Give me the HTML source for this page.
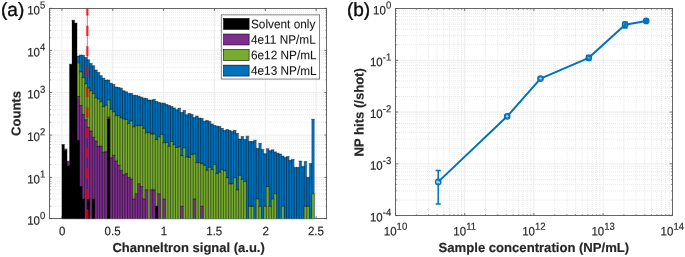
<!DOCTYPE html>
<html><head><meta charset="utf-8"><title>Figure</title>
<style>html,body{margin:0;padding:0;background:#fff}svg{display:block}text{font-family:"Liberation Sans",sans-serif}</style>
</head><body>
<svg width="685" height="257" viewBox="0 0 685 257">
<rect width="685" height="257" fill="#fff"/>
<g id="panelA">
<line x1="50" x2="327" y1="206.27" y2="206.27" stroke="#e4e4e4" stroke-width="0.8" stroke-dasharray="1 1" stroke-dashoffset="1"/>
<line x1="50" x2="327" y1="198.99" y2="198.99" stroke="#e4e4e4" stroke-width="0.8" stroke-dasharray="1 1" stroke-dashoffset="1"/>
<line x1="50" x2="327" y1="193.83" y2="193.83" stroke="#e4e4e4" stroke-width="0.8" stroke-dasharray="1 1" stroke-dashoffset="1"/>
<line x1="50" x2="327" y1="189.83" y2="189.83" stroke="#e4e4e4" stroke-width="0.8" stroke-dasharray="1 1" stroke-dashoffset="1"/>
<line x1="50" x2="327" y1="186.56" y2="186.56" stroke="#e4e4e4" stroke-width="0.8" stroke-dasharray="1 1" stroke-dashoffset="1"/>
<line x1="50" x2="327" y1="183.8" y2="183.8" stroke="#e4e4e4" stroke-width="0.8" stroke-dasharray="1 1" stroke-dashoffset="1"/>
<line x1="50" x2="327" y1="181.4" y2="181.4" stroke="#e4e4e4" stroke-width="0.8" stroke-dasharray="1 1" stroke-dashoffset="1"/>
<line x1="50" x2="327" y1="179.29" y2="179.29" stroke="#e4e4e4" stroke-width="0.8" stroke-dasharray="1 1" stroke-dashoffset="1"/>
<line x1="50" x2="327" y1="164.67" y2="164.67" stroke="#e4e4e4" stroke-width="0.8" stroke-dasharray="1 1" stroke-dashoffset="1"/>
<line x1="50" x2="327" y1="157.22" y2="157.22" stroke="#e4e4e4" stroke-width="0.8" stroke-dasharray="1 1" stroke-dashoffset="1"/>
<line x1="50" x2="327" y1="151.93" y2="151.93" stroke="#e4e4e4" stroke-width="0.8" stroke-dasharray="1 1" stroke-dashoffset="1"/>
<line x1="50" x2="327" y1="147.83" y2="147.83" stroke="#e4e4e4" stroke-width="0.8" stroke-dasharray="1 1" stroke-dashoffset="1"/>
<line x1="50" x2="327" y1="144.48" y2="144.48" stroke="#e4e4e4" stroke-width="0.8" stroke-dasharray="1 1" stroke-dashoffset="1"/>
<line x1="50" x2="327" y1="141.65" y2="141.65" stroke="#e4e4e4" stroke-width="0.8" stroke-dasharray="1 1" stroke-dashoffset="1"/>
<line x1="50" x2="327" y1="139.2" y2="139.2" stroke="#e4e4e4" stroke-width="0.8" stroke-dasharray="1 1" stroke-dashoffset="1"/>
<line x1="50" x2="327" y1="137.04" y2="137.04" stroke="#e4e4e4" stroke-width="0.8" stroke-dasharray="1 1" stroke-dashoffset="1"/>
<line x1="50" x2="327" y1="122.28" y2="122.28" stroke="#e4e4e4" stroke-width="0.8" stroke-dasharray="1 1" stroke-dashoffset="1"/>
<line x1="50" x2="327" y1="114.77" y2="114.77" stroke="#e4e4e4" stroke-width="0.8" stroke-dasharray="1 1" stroke-dashoffset="1"/>
<line x1="50" x2="327" y1="109.45" y2="109.45" stroke="#e4e4e4" stroke-width="0.8" stroke-dasharray="1 1" stroke-dashoffset="1"/>
<line x1="50" x2="327" y1="105.32" y2="105.32" stroke="#e4e4e4" stroke-width="0.8" stroke-dasharray="1 1" stroke-dashoffset="1"/>
<line x1="50" x2="327" y1="101.95" y2="101.95" stroke="#e4e4e4" stroke-width="0.8" stroke-dasharray="1 1" stroke-dashoffset="1"/>
<line x1="50" x2="327" y1="99.1" y2="99.1" stroke="#e4e4e4" stroke-width="0.8" stroke-dasharray="1 1" stroke-dashoffset="1"/>
<line x1="50" x2="327" y1="96.63" y2="96.63" stroke="#e4e4e4" stroke-width="0.8" stroke-dasharray="1 1" stroke-dashoffset="1"/>
<line x1="50" x2="327" y1="94.45" y2="94.45" stroke="#e4e4e4" stroke-width="0.8" stroke-dasharray="1 1" stroke-dashoffset="1"/>
<line x1="50" x2="327" y1="79.83" y2="79.83" stroke="#e4e4e4" stroke-width="0.8" stroke-dasharray="1 1" stroke-dashoffset="1"/>
<line x1="50" x2="327" y1="72.41" y2="72.41" stroke="#e4e4e4" stroke-width="0.8" stroke-dasharray="1 1" stroke-dashoffset="1"/>
<line x1="50" x2="327" y1="67.15" y2="67.15" stroke="#e4e4e4" stroke-width="0.8" stroke-dasharray="1 1" stroke-dashoffset="1"/>
<line x1="50" x2="327" y1="63.07" y2="63.07" stroke="#e4e4e4" stroke-width="0.8" stroke-dasharray="1 1" stroke-dashoffset="1"/>
<line x1="50" x2="327" y1="59.74" y2="59.74" stroke="#e4e4e4" stroke-width="0.8" stroke-dasharray="1 1" stroke-dashoffset="1"/>
<line x1="50" x2="327" y1="56.92" y2="56.92" stroke="#e4e4e4" stroke-width="0.8" stroke-dasharray="1 1" stroke-dashoffset="1"/>
<line x1="50" x2="327" y1="54.48" y2="54.48" stroke="#e4e4e4" stroke-width="0.8" stroke-dasharray="1 1" stroke-dashoffset="1"/>
<line x1="50" x2="327" y1="52.33" y2="52.33" stroke="#e4e4e4" stroke-width="0.8" stroke-dasharray="1 1" stroke-dashoffset="1"/>
<line x1="50" x2="327" y1="37.76" y2="37.76" stroke="#e4e4e4" stroke-width="0.8" stroke-dasharray="1 1" stroke-dashoffset="1"/>
<line x1="50" x2="327" y1="30.36" y2="30.36" stroke="#e4e4e4" stroke-width="0.8" stroke-dasharray="1 1" stroke-dashoffset="1"/>
<line x1="50" x2="327" y1="25.11" y2="25.11" stroke="#e4e4e4" stroke-width="0.8" stroke-dasharray="1 1" stroke-dashoffset="1"/>
<line x1="50" x2="327" y1="21.04" y2="21.04" stroke="#e4e4e4" stroke-width="0.8" stroke-dasharray="1 1" stroke-dashoffset="1"/>
<line x1="50" x2="327" y1="17.72" y2="17.72" stroke="#e4e4e4" stroke-width="0.8" stroke-dasharray="1 1" stroke-dashoffset="1"/>
<line x1="50" x2="327" y1="14.91" y2="14.91" stroke="#e4e4e4" stroke-width="0.8" stroke-dasharray="1 1" stroke-dashoffset="1"/>
<line x1="50" x2="327" y1="12.47" y2="12.47" stroke="#e4e4e4" stroke-width="0.8" stroke-dasharray="1 1" stroke-dashoffset="1"/>
<line x1="50" x2="327" y1="10.32" y2="10.32" stroke="#e4e4e4" stroke-width="0.8" stroke-dasharray="1 1" stroke-dashoffset="1"/>
<line x1="49.5" x2="327" y1="177.4" y2="177.4" stroke="#ececec" stroke-width="1"/>
<line x1="49.5" x2="327" y1="135.1" y2="135.1" stroke="#ececec" stroke-width="1"/>
<line x1="49.5" x2="327" y1="92.5" y2="92.5" stroke="#ececec" stroke-width="1"/>
<line x1="49.5" x2="327" y1="50.4" y2="50.4" stroke="#ececec" stroke-width="1"/>
<line x1="61.9" x2="61.9" y1="8.4" y2="218.7" stroke="#ececec" stroke-width="1"/>
<line x1="112.75" x2="112.75" y1="8.4" y2="218.7" stroke="#ececec" stroke-width="1"/>
<line x1="163.6" x2="163.6" y1="8.4" y2="218.7" stroke="#ececec" stroke-width="1"/>
<line x1="214.45" x2="214.45" y1="8.4" y2="218.7" stroke="#ececec" stroke-width="1"/>
<line x1="265.3" x2="265.3" y1="8.4" y2="218.7" stroke="#ececec" stroke-width="1"/>
<line x1="316.15" x2="316.15" y1="8.4" y2="218.7" stroke="#ececec" stroke-width="1"/>
<rect x="49.5" y="8.5" width="277" height="210" fill="none" stroke="#565656" stroke-width="0.9"/>
<line x1="61.9" x2="61.9" y1="218.7" y2="216.1" stroke="#565656" stroke-width="0.8"/>
<line x1="61.9" x2="61.9" y1="8.4" y2="11" stroke="#565656" stroke-width="0.8"/>
<line x1="112.75" x2="112.75" y1="218.7" y2="216.1" stroke="#565656" stroke-width="0.8"/>
<line x1="112.75" x2="112.75" y1="8.4" y2="11" stroke="#565656" stroke-width="0.8"/>
<line x1="163.6" x2="163.6" y1="218.7" y2="216.1" stroke="#565656" stroke-width="0.8"/>
<line x1="163.6" x2="163.6" y1="8.4" y2="11" stroke="#565656" stroke-width="0.8"/>
<line x1="214.45" x2="214.45" y1="218.7" y2="216.1" stroke="#565656" stroke-width="0.8"/>
<line x1="214.45" x2="214.45" y1="8.4" y2="11" stroke="#565656" stroke-width="0.8"/>
<line x1="265.3" x2="265.3" y1="218.7" y2="216.1" stroke="#565656" stroke-width="0.8"/>
<line x1="265.3" x2="265.3" y1="8.4" y2="11" stroke="#565656" stroke-width="0.8"/>
<line x1="316.15" x2="316.15" y1="218.7" y2="216.1" stroke="#565656" stroke-width="0.8"/>
<line x1="316.15" x2="316.15" y1="8.4" y2="11" stroke="#565656" stroke-width="0.8"/>
<line x1="49.5" x2="52.1" y1="218.7" y2="218.7" stroke="#565656" stroke-width="0.8"/>
<line x1="327" x2="324.4" y1="218.7" y2="218.7" stroke="#565656" stroke-width="0.8"/>
<line x1="49.5" x2="50.9" y1="206.27" y2="206.27" stroke="#565656" stroke-width="0.6"/>
<line x1="327" x2="325.6" y1="206.27" y2="206.27" stroke="#565656" stroke-width="0.6"/>
<line x1="49.5" x2="50.9" y1="198.99" y2="198.99" stroke="#565656" stroke-width="0.6"/>
<line x1="327" x2="325.6" y1="198.99" y2="198.99" stroke="#565656" stroke-width="0.6"/>
<line x1="49.5" x2="50.9" y1="193.83" y2="193.83" stroke="#565656" stroke-width="0.6"/>
<line x1="327" x2="325.6" y1="193.83" y2="193.83" stroke="#565656" stroke-width="0.6"/>
<line x1="49.5" x2="50.9" y1="189.83" y2="189.83" stroke="#565656" stroke-width="0.6"/>
<line x1="327" x2="325.6" y1="189.83" y2="189.83" stroke="#565656" stroke-width="0.6"/>
<line x1="49.5" x2="50.9" y1="186.56" y2="186.56" stroke="#565656" stroke-width="0.6"/>
<line x1="327" x2="325.6" y1="186.56" y2="186.56" stroke="#565656" stroke-width="0.6"/>
<line x1="49.5" x2="50.9" y1="183.8" y2="183.8" stroke="#565656" stroke-width="0.6"/>
<line x1="327" x2="325.6" y1="183.8" y2="183.8" stroke="#565656" stroke-width="0.6"/>
<line x1="49.5" x2="50.9" y1="181.4" y2="181.4" stroke="#565656" stroke-width="0.6"/>
<line x1="327" x2="325.6" y1="181.4" y2="181.4" stroke="#565656" stroke-width="0.6"/>
<line x1="49.5" x2="50.9" y1="179.29" y2="179.29" stroke="#565656" stroke-width="0.6"/>
<line x1="327" x2="325.6" y1="179.29" y2="179.29" stroke="#565656" stroke-width="0.6"/>
<line x1="49.5" x2="52.1" y1="177.4" y2="177.4" stroke="#565656" stroke-width="0.8"/>
<line x1="327" x2="324.4" y1="177.4" y2="177.4" stroke="#565656" stroke-width="0.8"/>
<line x1="49.5" x2="50.9" y1="164.67" y2="164.67" stroke="#565656" stroke-width="0.6"/>
<line x1="327" x2="325.6" y1="164.67" y2="164.67" stroke="#565656" stroke-width="0.6"/>
<line x1="49.5" x2="50.9" y1="157.22" y2="157.22" stroke="#565656" stroke-width="0.6"/>
<line x1="327" x2="325.6" y1="157.22" y2="157.22" stroke="#565656" stroke-width="0.6"/>
<line x1="49.5" x2="50.9" y1="151.93" y2="151.93" stroke="#565656" stroke-width="0.6"/>
<line x1="327" x2="325.6" y1="151.93" y2="151.93" stroke="#565656" stroke-width="0.6"/>
<line x1="49.5" x2="50.9" y1="147.83" y2="147.83" stroke="#565656" stroke-width="0.6"/>
<line x1="327" x2="325.6" y1="147.83" y2="147.83" stroke="#565656" stroke-width="0.6"/>
<line x1="49.5" x2="50.9" y1="144.48" y2="144.48" stroke="#565656" stroke-width="0.6"/>
<line x1="327" x2="325.6" y1="144.48" y2="144.48" stroke="#565656" stroke-width="0.6"/>
<line x1="49.5" x2="50.9" y1="141.65" y2="141.65" stroke="#565656" stroke-width="0.6"/>
<line x1="327" x2="325.6" y1="141.65" y2="141.65" stroke="#565656" stroke-width="0.6"/>
<line x1="49.5" x2="50.9" y1="139.2" y2="139.2" stroke="#565656" stroke-width="0.6"/>
<line x1="327" x2="325.6" y1="139.2" y2="139.2" stroke="#565656" stroke-width="0.6"/>
<line x1="49.5" x2="50.9" y1="137.04" y2="137.04" stroke="#565656" stroke-width="0.6"/>
<line x1="327" x2="325.6" y1="137.04" y2="137.04" stroke="#565656" stroke-width="0.6"/>
<line x1="49.5" x2="52.1" y1="135.1" y2="135.1" stroke="#565656" stroke-width="0.8"/>
<line x1="327" x2="324.4" y1="135.1" y2="135.1" stroke="#565656" stroke-width="0.8"/>
<line x1="49.5" x2="50.9" y1="122.28" y2="122.28" stroke="#565656" stroke-width="0.6"/>
<line x1="327" x2="325.6" y1="122.28" y2="122.28" stroke="#565656" stroke-width="0.6"/>
<line x1="49.5" x2="50.9" y1="114.77" y2="114.77" stroke="#565656" stroke-width="0.6"/>
<line x1="327" x2="325.6" y1="114.77" y2="114.77" stroke="#565656" stroke-width="0.6"/>
<line x1="49.5" x2="50.9" y1="109.45" y2="109.45" stroke="#565656" stroke-width="0.6"/>
<line x1="327" x2="325.6" y1="109.45" y2="109.45" stroke="#565656" stroke-width="0.6"/>
<line x1="49.5" x2="50.9" y1="105.32" y2="105.32" stroke="#565656" stroke-width="0.6"/>
<line x1="327" x2="325.6" y1="105.32" y2="105.32" stroke="#565656" stroke-width="0.6"/>
<line x1="49.5" x2="50.9" y1="101.95" y2="101.95" stroke="#565656" stroke-width="0.6"/>
<line x1="327" x2="325.6" y1="101.95" y2="101.95" stroke="#565656" stroke-width="0.6"/>
<line x1="49.5" x2="50.9" y1="99.1" y2="99.1" stroke="#565656" stroke-width="0.6"/>
<line x1="327" x2="325.6" y1="99.1" y2="99.1" stroke="#565656" stroke-width="0.6"/>
<line x1="49.5" x2="50.9" y1="96.63" y2="96.63" stroke="#565656" stroke-width="0.6"/>
<line x1="327" x2="325.6" y1="96.63" y2="96.63" stroke="#565656" stroke-width="0.6"/>
<line x1="49.5" x2="50.9" y1="94.45" y2="94.45" stroke="#565656" stroke-width="0.6"/>
<line x1="327" x2="325.6" y1="94.45" y2="94.45" stroke="#565656" stroke-width="0.6"/>
<line x1="49.5" x2="52.1" y1="92.5" y2="92.5" stroke="#565656" stroke-width="0.8"/>
<line x1="327" x2="324.4" y1="92.5" y2="92.5" stroke="#565656" stroke-width="0.8"/>
<line x1="49.5" x2="50.9" y1="79.83" y2="79.83" stroke="#565656" stroke-width="0.6"/>
<line x1="327" x2="325.6" y1="79.83" y2="79.83" stroke="#565656" stroke-width="0.6"/>
<line x1="49.5" x2="50.9" y1="72.41" y2="72.41" stroke="#565656" stroke-width="0.6"/>
<line x1="327" x2="325.6" y1="72.41" y2="72.41" stroke="#565656" stroke-width="0.6"/>
<line x1="49.5" x2="50.9" y1="67.15" y2="67.15" stroke="#565656" stroke-width="0.6"/>
<line x1="327" x2="325.6" y1="67.15" y2="67.15" stroke="#565656" stroke-width="0.6"/>
<line x1="49.5" x2="50.9" y1="63.07" y2="63.07" stroke="#565656" stroke-width="0.6"/>
<line x1="327" x2="325.6" y1="63.07" y2="63.07" stroke="#565656" stroke-width="0.6"/>
<line x1="49.5" x2="50.9" y1="59.74" y2="59.74" stroke="#565656" stroke-width="0.6"/>
<line x1="327" x2="325.6" y1="59.74" y2="59.74" stroke="#565656" stroke-width="0.6"/>
<line x1="49.5" x2="50.9" y1="56.92" y2="56.92" stroke="#565656" stroke-width="0.6"/>
<line x1="327" x2="325.6" y1="56.92" y2="56.92" stroke="#565656" stroke-width="0.6"/>
<line x1="49.5" x2="50.9" y1="54.48" y2="54.48" stroke="#565656" stroke-width="0.6"/>
<line x1="327" x2="325.6" y1="54.48" y2="54.48" stroke="#565656" stroke-width="0.6"/>
<line x1="49.5" x2="50.9" y1="52.33" y2="52.33" stroke="#565656" stroke-width="0.6"/>
<line x1="327" x2="325.6" y1="52.33" y2="52.33" stroke="#565656" stroke-width="0.6"/>
<line x1="49.5" x2="52.1" y1="50.4" y2="50.4" stroke="#565656" stroke-width="0.8"/>
<line x1="327" x2="324.4" y1="50.4" y2="50.4" stroke="#565656" stroke-width="0.8"/>
<line x1="49.5" x2="50.9" y1="37.76" y2="37.76" stroke="#565656" stroke-width="0.6"/>
<line x1="327" x2="325.6" y1="37.76" y2="37.76" stroke="#565656" stroke-width="0.6"/>
<line x1="49.5" x2="50.9" y1="30.36" y2="30.36" stroke="#565656" stroke-width="0.6"/>
<line x1="327" x2="325.6" y1="30.36" y2="30.36" stroke="#565656" stroke-width="0.6"/>
<line x1="49.5" x2="50.9" y1="25.11" y2="25.11" stroke="#565656" stroke-width="0.6"/>
<line x1="327" x2="325.6" y1="25.11" y2="25.11" stroke="#565656" stroke-width="0.6"/>
<line x1="49.5" x2="50.9" y1="21.04" y2="21.04" stroke="#565656" stroke-width="0.6"/>
<line x1="327" x2="325.6" y1="21.04" y2="21.04" stroke="#565656" stroke-width="0.6"/>
<line x1="49.5" x2="50.9" y1="17.72" y2="17.72" stroke="#565656" stroke-width="0.6"/>
<line x1="327" x2="325.6" y1="17.72" y2="17.72" stroke="#565656" stroke-width="0.6"/>
<line x1="49.5" x2="50.9" y1="14.91" y2="14.91" stroke="#565656" stroke-width="0.6"/>
<line x1="327" x2="325.6" y1="14.91" y2="14.91" stroke="#565656" stroke-width="0.6"/>
<line x1="49.5" x2="50.9" y1="12.47" y2="12.47" stroke="#565656" stroke-width="0.6"/>
<line x1="327" x2="325.6" y1="12.47" y2="12.47" stroke="#565656" stroke-width="0.6"/>
<line x1="49.5" x2="50.9" y1="10.32" y2="10.32" stroke="#565656" stroke-width="0.6"/>
<line x1="327" x2="325.6" y1="10.32" y2="10.32" stroke="#565656" stroke-width="0.6"/>
<line x1="49.5" x2="52.1" y1="8.4" y2="8.4" stroke="#565656" stroke-width="0.8"/>
<line x1="327" x2="324.4" y1="8.4" y2="8.4" stroke="#565656" stroke-width="0.8"/>
<line x1="87.33" x2="87.33" y1="8.4" y2="218.7" stroke="#555" stroke-width="0.6"/>
<g id="h4e13">
<path d="M77.04 218.7V56.1H79.57V55.1H82.09V55.4H84.62V57.6H87.14V59.8H89.66V63.4H92.19V65.8H94.71V70H97.24V72.6H99.76V75.7H102.28V78.2H104.81V80.1H107.33V80.1H109.86V83.2H112.38V84.5H114.9V87H117.43V87.6H119.95V88.2H122.48V90.8H125V91.8H127.52V93.4H130.05V93.5H132.57V95.3H135.1V95.5H137.62V96.2H140.14V97.2H142.67V98.2H145.19V98.6H147.72V100.1H150.24V100.3H152.76V99.4H155.29V101.6H157.81V102.6H160.34V103.2H162.86V103.2H165.38V104.5H167.91V105.6H170.43V106.6H172.96V107.9H175.48V109.7H178V108.2H180.53V112.5H183.05V110.6H185.58V114.8H188.1V113.5H190.62V114.6H193.15V117.4H195.67V116H198.2V118H200.72V118.4H203.24V121.2H205.77V120.6H208.29V121.4H210.82V123.9H213.34V125.6H215.86V126.2H218.39V126.6H220.91V128.5H223.44V130.6H225.96V129.6H228.48V130.6H231.01V131.6H233.53V130.3H236.06V133.5H238.58V139.1H241.1V136.6H243.63V139.4H246.15V136.2H248.68V141.5H251.2V141.5H253.72V140.2H256.25V148.5H258.77V143.3H261.3V149.4H263.82V153.8H266.34V148.8H268.87V150.7H271.39V149.8H273.92V151.9H276.44V153.2H278.96V154.1H281.49V156.1H284.01V157.6H286.54V156.6H289.06V160.3H291.58V159.5H294.11V167.4H296.63V167.4H299.16V161.1H301.68V166.4H304.2V161.6H306.73V177.4H309.25V163.6H311.78V119.3H314.3V218.7Z" fill="#0072bd"/>
<path d="M77.04 218.7V56.1M79.57 56.1V218.7M79.57 218.7V55.1M82.09 55.1V218.7M82.09 218.7V55.4M84.62 55.4V218.7M84.62 218.7V57.6M87.14 57.6V218.7M87.14 218.7V59.8M89.66 59.8V218.7M89.66 218.7V63.4M92.19 63.4V218.7M92.19 218.7V65.8M94.71 65.8V218.7M94.71 218.7V70M97.24 70V218.7M97.24 218.7V72.6M99.76 72.6V218.7M99.76 218.7V75.7M102.28 75.7V218.7M102.28 218.7V78.2M104.81 78.2V218.7M104.81 218.7V80.1M107.33 80.1V218.7M107.33 218.7V80.1M109.86 80.1V218.7M109.86 218.7V83.2M112.38 83.2V218.7M112.38 218.7V84.5M114.9 84.5V218.7M114.9 218.7V87M117.43 87V218.7M117.43 218.7V87.6M119.95 87.6V218.7M119.95 218.7V88.2M122.48 88.2V218.7M122.48 218.7V90.8M125 90.8V218.7M125 218.7V91.8M127.52 91.8V218.7M127.52 218.7V93.4M130.05 93.4V218.7M130.05 218.7V93.5M132.57 93.5V218.7M132.57 218.7V95.3M135.1 95.3V218.7M135.1 218.7V95.5M137.62 95.5V218.7M137.62 218.7V96.2M140.14 96.2V218.7M140.14 218.7V97.2M142.67 97.2V218.7M142.67 218.7V98.2M145.19 98.2V218.7M145.19 218.7V98.6M147.72 98.6V218.7M147.72 218.7V100.1M150.24 100.1V218.7M150.24 218.7V100.3M152.76 100.3V218.7M152.76 218.7V99.4M155.29 99.4V218.7M155.29 218.7V101.6M157.81 101.6V218.7M157.81 218.7V102.6M160.34 102.6V218.7M160.34 218.7V103.2M162.86 103.2V218.7M162.86 218.7V103.2M165.38 103.2V218.7M165.38 218.7V104.5M167.91 104.5V218.7M167.91 218.7V105.6M170.43 105.6V218.7M170.43 218.7V106.6M172.96 106.6V218.7M172.96 218.7V107.9M175.48 107.9V218.7M175.48 218.7V109.7M178 109.7V218.7M178 218.7V108.2M180.53 108.2V218.7M180.53 218.7V112.5M183.05 112.5V218.7M183.05 218.7V110.6M185.58 110.6V218.7M185.58 218.7V114.8M188.1 114.8V218.7M188.1 218.7V113.5M190.62 113.5V218.7M190.62 218.7V114.6M193.15 114.6V218.7M193.15 218.7V117.4M195.67 117.4V218.7M195.67 218.7V116M198.2 116V218.7M198.2 218.7V118M200.72 118V218.7M200.72 218.7V118.4M203.24 118.4V218.7M203.24 218.7V121.2M205.77 121.2V218.7M205.77 218.7V120.6M208.29 120.6V218.7M208.29 218.7V121.4M210.82 121.4V218.7M210.82 218.7V123.9M213.34 123.9V218.7M213.34 218.7V125.6M215.86 125.6V218.7M215.86 218.7V126.2M218.39 126.2V218.7M218.39 218.7V126.6M220.91 126.6V218.7M220.91 218.7V128.5M223.44 128.5V218.7M223.44 218.7V130.6M225.96 130.6V218.7M225.96 218.7V129.6M228.48 129.6V218.7M228.48 218.7V130.6M231.01 130.6V218.7M231.01 218.7V131.6M233.53 131.6V218.7M233.53 218.7V130.3M236.06 130.3V218.7M236.06 218.7V133.5M238.58 133.5V218.7M238.58 218.7V139.1M241.1 139.1V218.7M241.1 218.7V136.6M243.63 136.6V218.7M243.63 218.7V139.4M246.15 139.4V218.7M246.15 218.7V136.2M248.68 136.2V218.7M248.68 218.7V141.5M251.2 141.5V218.7M251.2 218.7V141.5M253.72 141.5V218.7M253.72 218.7V140.2M256.25 140.2V218.7M256.25 218.7V148.5M258.77 148.5V218.7M258.77 218.7V143.3M261.3 143.3V218.7M261.3 218.7V149.4M263.82 149.4V218.7M263.82 218.7V153.8M266.34 153.8V218.7M266.34 218.7V148.8M268.87 148.8V218.7M268.87 218.7V150.7M271.39 150.7V218.7M271.39 218.7V149.8M273.92 149.8V218.7M273.92 218.7V151.9M276.44 151.9V218.7M276.44 218.7V153.2M278.96 153.2V218.7M278.96 218.7V154.1M281.49 154.1V218.7M281.49 218.7V156.1M284.01 156.1V218.7M284.01 218.7V157.6M286.54 157.6V218.7M286.54 218.7V156.6M289.06 156.6V218.7M289.06 218.7V160.3M291.58 160.3V218.7M291.58 218.7V159.5M294.11 159.5V218.7M294.11 218.7V167.4M296.63 167.4V218.7M296.63 218.7V167.4M299.16 167.4V218.7M299.16 218.7V161.1M301.68 161.1V218.7M301.68 218.7V166.4M304.2 166.4V218.7M304.2 218.7V161.6M306.73 161.6V218.7M306.73 218.7V177.4M309.25 177.4V218.7M309.25 218.7V163.6M311.78 163.6V218.7M311.78 218.7V119.3M314.3 119.3V218.7" fill="none" stroke="#000" stroke-opacity="0.6" stroke-width="0.44"/>
<path d="M77.04 56.1H79.57M79.57 55.1H82.09M82.09 55.4H84.62M84.62 57.6H87.14M87.14 59.8H89.66M89.66 63.4H92.19M92.19 65.8H94.71M94.71 70H97.24M97.24 72.6H99.76M99.76 75.7H102.28M102.28 78.2H104.81M104.81 80.1H107.33M107.33 80.1H109.86M109.86 83.2H112.38M112.38 84.5H114.9M114.9 87H117.43M117.43 87.6H119.95M119.95 88.2H122.48M122.48 90.8H125M125 91.8H127.52M127.52 93.4H130.05M130.05 93.5H132.57M132.57 95.3H135.1M135.1 95.5H137.62M137.62 96.2H140.14M140.14 97.2H142.67M142.67 98.2H145.19M145.19 98.6H147.72M147.72 100.1H150.24M150.24 100.3H152.76M152.76 99.4H155.29M155.29 101.6H157.81M157.81 102.6H160.34M160.34 103.2H162.86M162.86 103.2H165.38M165.38 104.5H167.91M167.91 105.6H170.43M170.43 106.6H172.96M172.96 107.9H175.48M175.48 109.7H178M178 108.2H180.53M180.53 112.5H183.05M183.05 110.6H185.58M185.58 114.8H188.1M188.1 113.5H190.62M190.62 114.6H193.15M193.15 117.4H195.67M195.67 116H198.2M198.2 118H200.72M200.72 118.4H203.24M203.24 121.2H205.77M205.77 120.6H208.29M208.29 121.4H210.82M210.82 123.9H213.34M213.34 125.6H215.86M215.86 126.2H218.39M218.39 126.6H220.91M220.91 128.5H223.44M223.44 130.6H225.96M225.96 129.6H228.48M228.48 130.6H231.01M231.01 131.6H233.53M233.53 130.3H236.06M236.06 133.5H238.58M238.58 139.1H241.1M241.1 136.6H243.63M243.63 139.4H246.15M246.15 136.2H248.68M248.68 141.5H251.2M251.2 141.5H253.72M253.72 140.2H256.25M256.25 148.5H258.77M258.77 143.3H261.3M261.3 149.4H263.82M263.82 153.8H266.34M266.34 148.8H268.87M268.87 150.7H271.39M271.39 149.8H273.92M273.92 151.9H276.44M276.44 153.2H278.96M278.96 154.1H281.49M281.49 156.1H284.01M284.01 157.6H286.54M286.54 156.6H289.06M289.06 160.3H291.58M291.58 159.5H294.11M294.11 167.4H296.63M296.63 167.4H299.16M299.16 161.1H301.68M301.68 166.4H304.2M304.2 161.6H306.73M306.73 177.4H309.25M309.25 163.6H311.78M311.78 119.3H314.3" fill="none" stroke="#000" stroke-opacity="0.8" stroke-width="0.55" stroke-linecap="square"/>
</g>
<g id="h6e12">
<path d="M77.04 218.7V62.8H79.57V71.9H82.09V77.6H84.62V83.9H87.14V88H89.66V90.8H92.19V93.6H94.71V97.8H97.24V99H99.76V101.8H102.28V106.6H104.81V105.2H107.33V99.9H109.86V109.3H112.38V111.9H114.9V115.6H117.43V115.9H119.95V117.8H122.48V119H125V119.5H127.52V123.6H130.05V121H132.57V126.8H135.1V125.6H137.62V125.6H140.14V125.6H142.67V128.3H145.19V132.7H147.72V132.7H150.24V134H152.76V134H155.29V139.4H157.81V136.9H160.34V134.6H162.86V142.8H165.38V142.5H167.91V146.3H170.43V141.5H172.96V144.8H175.48V147.5H178V146.9H180.53V155.7H183.05V147.8H185.58V156.9H188.1V157.5H190.62V154.6H193.15V154H195.67V162.6H198.2V162.8H200.72V163.8H203.24V165.3H205.77V170.3H208.29V167.3H210.82V169.6H213.34V164.6H215.86V173.6H218.39V172.3H220.91V169.8H223.44V170.8H225.96V177.7H228.48V183.8H231.01V183.8H233.53V177.7H236.06V189.83H238.58V175.2H241.1V179.29H243.63V181.4H246.15V218.7ZM248.68 218.7V206.27H251.2V206.27H253.72V218.7ZM256.25 218.7V198.99H258.77V206.27H261.3V218.7ZM263.82 218.7V206.27H266.34V186.56H268.87V206.27H271.39V198.99H273.92V193.83H276.44V218.7ZM281.49 218.7V206.27H284.01V218.7ZM304.2 218.7V206.27H306.73V206.27H309.25V218.7ZM311.78 218.7V193.83H314.3V218.7Z" fill="#77ac30"/>
<path d="M77.04 218.7V62.8M79.57 62.8V218.7M79.57 218.7V71.9M82.09 71.9V218.7M82.09 218.7V77.6M84.62 77.6V218.7M84.62 218.7V83.9M87.14 83.9V218.7M87.14 218.7V88M89.66 88V218.7M89.66 218.7V90.8M92.19 90.8V218.7M92.19 218.7V93.6M94.71 93.6V218.7M94.71 218.7V97.8M97.24 97.8V218.7M97.24 218.7V99M99.76 99V218.7M99.76 218.7V101.8M102.28 101.8V218.7M102.28 218.7V106.6M104.81 106.6V218.7M104.81 218.7V105.2M107.33 105.2V218.7M107.33 218.7V99.9M109.86 99.9V218.7M109.86 218.7V109.3M112.38 109.3V218.7M112.38 218.7V111.9M114.9 111.9V218.7M114.9 218.7V115.6M117.43 115.6V218.7M117.43 218.7V115.9M119.95 115.9V218.7M119.95 218.7V117.8M122.48 117.8V218.7M122.48 218.7V119M125 119V218.7M125 218.7V119.5M127.52 119.5V218.7M127.52 218.7V123.6M130.05 123.6V218.7M130.05 218.7V121M132.57 121V218.7M132.57 218.7V126.8M135.1 126.8V218.7M135.1 218.7V125.6M137.62 125.6V218.7M137.62 218.7V125.6M140.14 125.6V218.7M140.14 218.7V125.6M142.67 125.6V218.7M142.67 218.7V128.3M145.19 128.3V218.7M145.19 218.7V132.7M147.72 132.7V218.7M147.72 218.7V132.7M150.24 132.7V218.7M150.24 218.7V134M152.76 134V218.7M152.76 218.7V134M155.29 134V218.7M155.29 218.7V139.4M157.81 139.4V218.7M157.81 218.7V136.9M160.34 136.9V218.7M160.34 218.7V134.6M162.86 134.6V218.7M162.86 218.7V142.8M165.38 142.8V218.7M165.38 218.7V142.5M167.91 142.5V218.7M167.91 218.7V146.3M170.43 146.3V218.7M170.43 218.7V141.5M172.96 141.5V218.7M172.96 218.7V144.8M175.48 144.8V218.7M175.48 218.7V147.5M178 147.5V218.7M178 218.7V146.9M180.53 146.9V218.7M180.53 218.7V155.7M183.05 155.7V218.7M183.05 218.7V147.8M185.58 147.8V218.7M185.58 218.7V156.9M188.1 156.9V218.7M188.1 218.7V157.5M190.62 157.5V218.7M190.62 218.7V154.6M193.15 154.6V218.7M193.15 218.7V154M195.67 154V218.7M195.67 218.7V162.6M198.2 162.6V218.7M198.2 218.7V162.8M200.72 162.8V218.7M200.72 218.7V163.8M203.24 163.8V218.7M203.24 218.7V165.3M205.77 165.3V218.7M205.77 218.7V170.3M208.29 170.3V218.7M208.29 218.7V167.3M210.82 167.3V218.7M210.82 218.7V169.6M213.34 169.6V218.7M213.34 218.7V164.6M215.86 164.6V218.7M215.86 218.7V173.6M218.39 173.6V218.7M218.39 218.7V172.3M220.91 172.3V218.7M220.91 218.7V169.8M223.44 169.8V218.7M223.44 218.7V170.8M225.96 170.8V218.7M225.96 218.7V177.7M228.48 177.7V218.7M228.48 218.7V183.8M231.01 183.8V218.7M231.01 218.7V183.8M233.53 183.8V218.7M233.53 218.7V177.7M236.06 177.7V218.7M236.06 218.7V189.83M238.58 189.83V218.7M238.58 218.7V175.2M241.1 175.2V218.7M241.1 218.7V179.29M243.63 179.29V218.7M243.63 218.7V181.4M246.15 181.4V218.7M248.68 218.7V206.27M251.2 206.27V218.7M251.2 218.7V206.27M253.72 206.27V218.7M256.25 218.7V198.99M258.77 198.99V218.7M258.77 218.7V206.27M261.3 206.27V218.7M263.82 218.7V206.27M266.34 206.27V218.7M266.34 218.7V186.56M268.87 186.56V218.7M268.87 218.7V206.27M271.39 206.27V218.7M271.39 218.7V198.99M273.92 198.99V218.7M273.92 218.7V193.83M276.44 193.83V218.7M281.49 218.7V206.27M284.01 206.27V218.7M304.2 218.7V206.27M306.73 206.27V218.7M306.73 218.7V206.27M309.25 206.27V218.7M311.78 218.7V193.83M314.3 193.83V218.7" fill="none" stroke="#000" stroke-opacity="0.6" stroke-width="0.44"/>
<path d="M77.04 62.8H79.57M79.57 71.9H82.09M82.09 77.6H84.62M84.62 83.9H87.14M87.14 88H89.66M89.66 90.8H92.19M92.19 93.6H94.71M94.71 97.8H97.24M97.24 99H99.76M99.76 101.8H102.28M102.28 106.6H104.81M104.81 105.2H107.33M107.33 99.9H109.86M109.86 109.3H112.38M112.38 111.9H114.9M114.9 115.6H117.43M117.43 115.9H119.95M119.95 117.8H122.48M122.48 119H125M125 119.5H127.52M127.52 123.6H130.05M130.05 121H132.57M132.57 126.8H135.1M135.1 125.6H137.62M137.62 125.6H140.14M140.14 125.6H142.67M142.67 128.3H145.19M145.19 132.7H147.72M147.72 132.7H150.24M150.24 134H152.76M152.76 134H155.29M155.29 139.4H157.81M157.81 136.9H160.34M160.34 134.6H162.86M162.86 142.8H165.38M165.38 142.5H167.91M167.91 146.3H170.43M170.43 141.5H172.96M172.96 144.8H175.48M175.48 147.5H178M178 146.9H180.53M180.53 155.7H183.05M183.05 147.8H185.58M185.58 156.9H188.1M188.1 157.5H190.62M190.62 154.6H193.15M193.15 154H195.67M195.67 162.6H198.2M198.2 162.8H200.72M200.72 163.8H203.24M203.24 165.3H205.77M205.77 170.3H208.29M208.29 167.3H210.82M210.82 169.6H213.34M213.34 164.6H215.86M215.86 173.6H218.39M218.39 172.3H220.91M220.91 169.8H223.44M223.44 170.8H225.96M225.96 177.7H228.48M228.48 183.8H231.01M231.01 183.8H233.53M233.53 177.7H236.06M236.06 189.83H238.58M238.58 175.2H241.1M241.1 179.29H243.63M243.63 181.4H246.15M248.68 206.27H251.2M251.2 206.27H253.72M256.25 198.99H258.77M258.77 206.27H261.3M263.82 206.27H266.34M266.34 186.56H268.87M268.87 206.27H271.39M271.39 198.99H273.92M273.92 193.83H276.44M281.49 206.27H284.01M304.2 206.27H306.73M306.73 206.27H309.25M311.78 193.83H314.3" fill="none" stroke="#000" stroke-opacity="0.8" stroke-width="0.55" stroke-linecap="square"/>
</g>
<g id="h4e11">
<path d="M64.42 218.7V149H66.95V161.3H69.47V218.7ZM77.04 218.7V96.5H79.57V105.6H82.09V114.4H84.62V119.8H87.14V127.3H89.66V131.1H92.19V137.3H94.71V141.1H97.24V146.3H99.76V146.2H102.28V152.2H104.81V151.8H107.33V117.1H109.86V157.8H112.38V155.3H114.9V161H117.43V165.3H119.95V170.4H122.48V174.8H125V173.6H127.52V177.4H130.05V179H132.57V198.99H135.1V193.83H137.62V183.8H140.14V186.56H142.67V198.99H145.19V189.83H147.72V218.7ZM150.24 218.7V189.83H152.76V189.83H155.29V218.7ZM157.81 218.7V193.83H160.34V218.7ZM162.86 218.7V198.99H165.38V218.7ZM180.53 218.7V206.27H183.05V218.7ZM193.15 218.7V198.99H195.67V218.7ZM200.72 218.7V206.27H203.24V218.7Z" fill="#7e2f8e"/>
<path d="M64.42 218.7V149M66.95 149V218.7M66.95 218.7V161.3M69.47 161.3V218.7M77.04 218.7V96.5M79.57 96.5V218.7M79.57 218.7V105.6M82.09 105.6V218.7M82.09 218.7V114.4M84.62 114.4V218.7M84.62 218.7V119.8M87.14 119.8V218.7M87.14 218.7V127.3M89.66 127.3V218.7M89.66 218.7V131.1M92.19 131.1V218.7M92.19 218.7V137.3M94.71 137.3V218.7M94.71 218.7V141.1M97.24 141.1V218.7M97.24 218.7V146.3M99.76 146.3V218.7M99.76 218.7V146.2M102.28 146.2V218.7M102.28 218.7V152.2M104.81 152.2V218.7M104.81 218.7V151.8M107.33 151.8V218.7M107.33 218.7V117.1M109.86 117.1V218.7M109.86 218.7V157.8M112.38 157.8V218.7M112.38 218.7V155.3M114.9 155.3V218.7M114.9 218.7V161M117.43 161V218.7M117.43 218.7V165.3M119.95 165.3V218.7M119.95 218.7V170.4M122.48 170.4V218.7M122.48 218.7V174.8M125 174.8V218.7M125 218.7V173.6M127.52 173.6V218.7M127.52 218.7V177.4M130.05 177.4V218.7M130.05 218.7V179M132.57 179V218.7M132.57 218.7V198.99M135.1 198.99V218.7M135.1 218.7V193.83M137.62 193.83V218.7M137.62 218.7V183.8M140.14 183.8V218.7M140.14 218.7V186.56M142.67 186.56V218.7M142.67 218.7V198.99M145.19 198.99V218.7M145.19 218.7V189.83M147.72 189.83V218.7M150.24 218.7V189.83M152.76 189.83V218.7M152.76 218.7V189.83M155.29 189.83V218.7M157.81 218.7V193.83M160.34 193.83V218.7M162.86 218.7V198.99M165.38 198.99V218.7M180.53 218.7V206.27M183.05 206.27V218.7M193.15 218.7V198.99M195.67 198.99V218.7M200.72 218.7V206.27M203.24 206.27V218.7" fill="none" stroke="#000" stroke-opacity="0.6" stroke-width="0.44"/>
<path d="M64.42 149H66.95M66.95 161.3H69.47M77.04 96.5H79.57M79.57 105.6H82.09M82.09 114.4H84.62M84.62 119.8H87.14M87.14 127.3H89.66M89.66 131.1H92.19M92.19 137.3H94.71M94.71 141.1H97.24M97.24 146.3H99.76M99.76 146.2H102.28M102.28 152.2H104.81M104.81 151.8H107.33M107.33 117.1H109.86M109.86 157.8H112.38M112.38 155.3H114.9M114.9 161H117.43M117.43 165.3H119.95M119.95 170.4H122.48M122.48 174.8H125M125 173.6H127.52M127.52 177.4H130.05M130.05 179H132.57M132.57 198.99H135.1M135.1 193.83H137.62M137.62 183.8H140.14M140.14 186.56H142.67M142.67 198.99H145.19M145.19 189.83H147.72M150.24 189.83H152.76M152.76 189.83H155.29M157.81 193.83H160.34M162.86 198.99H165.38M180.53 206.27H183.05M193.15 198.99H195.67M200.72 206.27H203.24" fill="none" stroke="#000" stroke-opacity="0.8" stroke-width="0.55" stroke-linecap="square"/>
</g>
<g id="hsolv">
<path d="M61.9 218.7V144.6H64.42V150.5H66.95V166H69.47V64.2H72V20.3H74.52V23.1H77.04V140.5H79.57V186.56H82.09V198.99H84.62V218.7ZM87.14 218.7V198.99H89.66V218.7ZM92.19 218.7V198.99H94.71V218.7ZM107.33 218.7V119H109.86V218.7ZM155.29 218.7V206.27H157.81V218.7Z" fill="#000000"/>
<path d="M61.9 218.7V144.6M64.42 144.6V218.7M64.42 218.7V150.5M66.95 150.5V218.7M66.95 218.7V166M69.47 166V218.7M69.47 218.7V64.2M72 64.2V218.7M72 218.7V20.3M74.52 20.3V218.7M74.52 218.7V23.1M77.04 23.1V218.7M77.04 218.7V140.5M79.57 140.5V218.7M79.57 218.7V186.56M82.09 186.56V218.7M82.09 218.7V198.99M84.62 198.99V218.7M87.14 218.7V198.99M89.66 198.99V218.7M92.19 218.7V198.99M94.71 198.99V218.7M107.33 218.7V119M109.86 119V218.7M155.29 218.7V206.27M157.81 206.27V218.7" fill="none" stroke="#000" stroke-opacity="0.6" stroke-width="0.44"/>
<path d="M61.9 144.6H64.42M64.42 150.5H66.95M66.95 166H69.47M69.47 64.2H72M72 20.3H74.52M74.52 23.1H77.04M77.04 140.5H79.57M79.57 186.56H82.09M82.09 198.99H84.62M87.14 198.99H89.66M92.19 198.99H94.71M107.33 119H109.86M155.29 206.27H157.81" fill="none" stroke="#000" stroke-opacity="0.8" stroke-width="0.55" stroke-linecap="square"/>
</g>
<line x1="87.33" x2="87.33" y1="218.7" y2="8.4" stroke="#f40008" stroke-opacity="0.25" stroke-width="3.3" stroke-dasharray="10.1 10.29" stroke-dashoffset="0.74"/>
<line x1="87.33" x2="87.33" y1="218.7" y2="8.4" stroke="#f40008" stroke-opacity="0.7" stroke-width="1.9" stroke-dasharray="10.1 10.29" stroke-dashoffset="0.74"/>
<line x1="61.9" x2="314.3" y1="219.05" y2="219.05" stroke="#777" stroke-opacity="0.6" stroke-width="0.7"/>
<text transform="matrix(0.935 0.0005 0 1 62.3 235.25)" font-size="12.3" fill="#262626" stroke="#262626" stroke-width="0.17" text-anchor="middle">0</text>
<text transform="matrix(0.935 0.0005 0 1 112.55 235.25)" font-size="12.3" fill="#262626" stroke="#262626" stroke-width="0.17" text-anchor="middle">0.5</text>
<text transform="matrix(0.935 0.0005 0 1 164 235.25)" font-size="12.3" fill="#262626" stroke="#262626" stroke-width="0.17" text-anchor="middle">1</text>
<text transform="matrix(0.935 0.0005 0 1 214.25 235.25)" font-size="12.3" fill="#262626" stroke="#262626" stroke-width="0.17" text-anchor="middle">1.5</text>
<text transform="matrix(0.935 0.0005 0 1 265.7 235.25)" font-size="12.3" fill="#262626" stroke="#262626" stroke-width="0.17" text-anchor="middle">2</text>
<text transform="matrix(0.935 0.0005 0 1 315.95 235.25)" font-size="12.3" fill="#262626" stroke="#262626" stroke-width="0.17" text-anchor="middle">2.5</text>
<text transform="matrix(0.935 0.0005 0 1 45.3 224.7)" font-size="12.3" fill="#262626" stroke="#262626" stroke-width="0.17" text-anchor="end">10<tspan font-size="10.2" dy="-5.8">0</tspan></text>
<text transform="matrix(0.935 0.0005 0 1 45.3 183.4)" font-size="12.3" fill="#262626" stroke="#262626" stroke-width="0.17" text-anchor="end">10<tspan font-size="10.2" dy="-5.8">1</tspan></text>
<text transform="matrix(0.935 0.0005 0 1 45.3 141.1)" font-size="12.3" fill="#262626" stroke="#262626" stroke-width="0.17" text-anchor="end">10<tspan font-size="10.2" dy="-5.8">2</tspan></text>
<text transform="matrix(0.935 0.0005 0 1 45.3 98.5)" font-size="12.3" fill="#262626" stroke="#262626" stroke-width="0.17" text-anchor="end">10<tspan font-size="10.2" dy="-5.8">3</tspan></text>
<text transform="matrix(0.935 0.0005 0 1 45.3 56.4)" font-size="12.3" fill="#262626" stroke="#262626" stroke-width="0.17" text-anchor="end">10<tspan font-size="10.2" dy="-5.8">4</tspan></text>
<text transform="matrix(0.935 0.0005 0 1 45.3 14.4)" font-size="12.3" fill="#262626" stroke="#262626" stroke-width="0.17" text-anchor="end">10<tspan font-size="10.2" dy="-5.8">5</tspan></text>
<text transform="matrix(1.0 0.0005 0 1 188.6 252)" font-size="13.0" font-weight="bold" fill="#262626" stroke="#262626" stroke-width="0.17" text-anchor="middle">Channeltron signal (a.u.)</text>
<text transform="matrix(0.0005 -1.0 1 0 20.4 113.5)" font-size="13.05" font-weight="bold" fill="#262626" stroke="#262626" stroke-width="0.17" text-anchor="middle">Counts</text>
<text transform="matrix(1.0 0.0005 0 1 1 16)" font-size="19" fill="#0a0a0a" stroke="#0a0a0a" stroke-width="0.35">(a)</text>
<rect x="221.3" y="14.85" width="98.3" height="64.2" fill="#fff" stroke="#6e6e6e" stroke-width="0.85"/>
<rect x="223.6" y="18.5" width="25.5" height="10.9" fill="#000000" stroke="#000" stroke-width="0.6"/>
<text transform="matrix(0.96 0.0005 0 1 251 28.2)" font-size="12.3" fill="#151515" stroke="#151515" stroke-width="0.08">Solvent only</text>
<rect x="223.6" y="34.05" width="25.5" height="10.9" fill="#7e2f8e" stroke="#000" stroke-width="0.6"/>
<text transform="matrix(0.96 0.0005 0 1 251 43.75)" font-size="12.3" fill="#151515" stroke="#151515" stroke-width="0.08">4e11 NP/mL</text>
<rect x="223.6" y="49.6" width="25.5" height="10.9" fill="#77ac30" stroke="#000" stroke-width="0.6"/>
<text transform="matrix(0.96 0.0005 0 1 251 59.3)" font-size="12.3" fill="#151515" stroke="#151515" stroke-width="0.08">6e12 NP/mL</text>
<rect x="223.6" y="65.15" width="25.5" height="10.9" fill="#0072bd" stroke="#000" stroke-width="0.6"/>
<text transform="matrix(0.96 0.0005 0 1 251 74.85)" font-size="12.3" fill="#151515" stroke="#151515" stroke-width="0.08">4e13 NP/mL</text>
</g>
<g id="panelB">
<line x1="396" x2="672.3" y1="200.01" y2="200.01" stroke="#e4e4e4" stroke-width="0.8" stroke-dasharray="1 1" stroke-dashoffset="1"/>
<line x1="416.33" x2="416.33" y1="9" y2="215.6" stroke="#e4e4e4" stroke-width="0.8" stroke-dasharray="1 1" stroke-dashoffset="1"/>
<line x1="396" x2="672.3" y1="190.9" y2="190.9" stroke="#e4e4e4" stroke-width="0.8" stroke-dasharray="1 1" stroke-dashoffset="1"/>
<line x1="428.52" x2="428.52" y1="9" y2="215.6" stroke="#e4e4e4" stroke-width="0.8" stroke-dasharray="1 1" stroke-dashoffset="1"/>
<line x1="396" x2="672.3" y1="184.43" y2="184.43" stroke="#e4e4e4" stroke-width="0.8" stroke-dasharray="1 1" stroke-dashoffset="1"/>
<line x1="437.16" x2="437.16" y1="9" y2="215.6" stroke="#e4e4e4" stroke-width="0.8" stroke-dasharray="1 1" stroke-dashoffset="1"/>
<line x1="396" x2="672.3" y1="179.41" y2="179.41" stroke="#e4e4e4" stroke-width="0.8" stroke-dasharray="1 1" stroke-dashoffset="1"/>
<line x1="443.87" x2="443.87" y1="9" y2="215.6" stroke="#e4e4e4" stroke-width="0.8" stroke-dasharray="1 1" stroke-dashoffset="1"/>
<line x1="396" x2="672.3" y1="175.31" y2="175.31" stroke="#e4e4e4" stroke-width="0.8" stroke-dasharray="1 1" stroke-dashoffset="1"/>
<line x1="449.35" x2="449.35" y1="9" y2="215.6" stroke="#e4e4e4" stroke-width="0.8" stroke-dasharray="1 1" stroke-dashoffset="1"/>
<line x1="396" x2="672.3" y1="171.85" y2="171.85" stroke="#e4e4e4" stroke-width="0.8" stroke-dasharray="1 1" stroke-dashoffset="1"/>
<line x1="453.98" x2="453.98" y1="9" y2="215.6" stroke="#e4e4e4" stroke-width="0.8" stroke-dasharray="1 1" stroke-dashoffset="1"/>
<line x1="396" x2="672.3" y1="168.84" y2="168.84" stroke="#e4e4e4" stroke-width="0.8" stroke-dasharray="1 1" stroke-dashoffset="1"/>
<line x1="457.99" x2="457.99" y1="9" y2="215.6" stroke="#e4e4e4" stroke-width="0.8" stroke-dasharray="1 1" stroke-dashoffset="1"/>
<line x1="396" x2="672.3" y1="166.19" y2="166.19" stroke="#e4e4e4" stroke-width="0.8" stroke-dasharray="1 1" stroke-dashoffset="1"/>
<line x1="461.53" x2="461.53" y1="9" y2="215.6" stroke="#e4e4e4" stroke-width="0.8" stroke-dasharray="1 1" stroke-dashoffset="1"/>
<line x1="396" x2="672.3" y1="148.24" y2="148.24" stroke="#e4e4e4" stroke-width="0.8" stroke-dasharray="1 1" stroke-dashoffset="1"/>
<line x1="485.53" x2="485.53" y1="9" y2="215.6" stroke="#e4e4e4" stroke-width="0.8" stroke-dasharray="1 1" stroke-dashoffset="1"/>
<line x1="396" x2="672.3" y1="139.12" y2="139.12" stroke="#e4e4e4" stroke-width="0.8" stroke-dasharray="1 1" stroke-dashoffset="1"/>
<line x1="497.72" x2="497.72" y1="9" y2="215.6" stroke="#e4e4e4" stroke-width="0.8" stroke-dasharray="1 1" stroke-dashoffset="1"/>
<line x1="396" x2="672.3" y1="132.65" y2="132.65" stroke="#e4e4e4" stroke-width="0.8" stroke-dasharray="1 1" stroke-dashoffset="1"/>
<line x1="506.36" x2="506.36" y1="9" y2="215.6" stroke="#e4e4e4" stroke-width="0.8" stroke-dasharray="1 1" stroke-dashoffset="1"/>
<line x1="396" x2="672.3" y1="127.64" y2="127.64" stroke="#e4e4e4" stroke-width="0.8" stroke-dasharray="1 1" stroke-dashoffset="1"/>
<line x1="513.07" x2="513.07" y1="9" y2="215.6" stroke="#e4e4e4" stroke-width="0.8" stroke-dasharray="1 1" stroke-dashoffset="1"/>
<line x1="396" x2="672.3" y1="123.54" y2="123.54" stroke="#e4e4e4" stroke-width="0.8" stroke-dasharray="1 1" stroke-dashoffset="1"/>
<line x1="518.55" x2="518.55" y1="9" y2="215.6" stroke="#e4e4e4" stroke-width="0.8" stroke-dasharray="1 1" stroke-dashoffset="1"/>
<line x1="396" x2="672.3" y1="120.07" y2="120.07" stroke="#e4e4e4" stroke-width="0.8" stroke-dasharray="1 1" stroke-dashoffset="1"/>
<line x1="523.18" x2="523.18" y1="9" y2="215.6" stroke="#e4e4e4" stroke-width="0.8" stroke-dasharray="1 1" stroke-dashoffset="1"/>
<line x1="396" x2="672.3" y1="117.07" y2="117.07" stroke="#e4e4e4" stroke-width="0.8" stroke-dasharray="1 1" stroke-dashoffset="1"/>
<line x1="527.19" x2="527.19" y1="9" y2="215.6" stroke="#e4e4e4" stroke-width="0.8" stroke-dasharray="1 1" stroke-dashoffset="1"/>
<line x1="396" x2="672.3" y1="114.42" y2="114.42" stroke="#e4e4e4" stroke-width="0.8" stroke-dasharray="1 1" stroke-dashoffset="1"/>
<line x1="530.73" x2="530.73" y1="9" y2="215.6" stroke="#e4e4e4" stroke-width="0.8" stroke-dasharray="1 1" stroke-dashoffset="1"/>
<line x1="396" x2="672.3" y1="96.46" y2="96.46" stroke="#e4e4e4" stroke-width="0.8" stroke-dasharray="1 1" stroke-dashoffset="1"/>
<line x1="554.73" x2="554.73" y1="9" y2="215.6" stroke="#e4e4e4" stroke-width="0.8" stroke-dasharray="1 1" stroke-dashoffset="1"/>
<line x1="396" x2="672.3" y1="87.35" y2="87.35" stroke="#e4e4e4" stroke-width="0.8" stroke-dasharray="1 1" stroke-dashoffset="1"/>
<line x1="566.92" x2="566.92" y1="9" y2="215.6" stroke="#e4e4e4" stroke-width="0.8" stroke-dasharray="1 1" stroke-dashoffset="1"/>
<line x1="396" x2="672.3" y1="80.88" y2="80.88" stroke="#e4e4e4" stroke-width="0.8" stroke-dasharray="1 1" stroke-dashoffset="1"/>
<line x1="575.56" x2="575.56" y1="9" y2="215.6" stroke="#e4e4e4" stroke-width="0.8" stroke-dasharray="1 1" stroke-dashoffset="1"/>
<line x1="396" x2="672.3" y1="75.86" y2="75.86" stroke="#e4e4e4" stroke-width="0.8" stroke-dasharray="1 1" stroke-dashoffset="1"/>
<line x1="582.27" x2="582.27" y1="9" y2="215.6" stroke="#e4e4e4" stroke-width="0.8" stroke-dasharray="1 1" stroke-dashoffset="1"/>
<line x1="396" x2="672.3" y1="71.76" y2="71.76" stroke="#e4e4e4" stroke-width="0.8" stroke-dasharray="1 1" stroke-dashoffset="1"/>
<line x1="587.75" x2="587.75" y1="9" y2="215.6" stroke="#e4e4e4" stroke-width="0.8" stroke-dasharray="1 1" stroke-dashoffset="1"/>
<line x1="396" x2="672.3" y1="68.3" y2="68.3" stroke="#e4e4e4" stroke-width="0.8" stroke-dasharray="1 1" stroke-dashoffset="1"/>
<line x1="592.38" x2="592.38" y1="9" y2="215.6" stroke="#e4e4e4" stroke-width="0.8" stroke-dasharray="1 1" stroke-dashoffset="1"/>
<line x1="396" x2="672.3" y1="65.29" y2="65.29" stroke="#e4e4e4" stroke-width="0.8" stroke-dasharray="1 1" stroke-dashoffset="1"/>
<line x1="596.39" x2="596.39" y1="9" y2="215.6" stroke="#e4e4e4" stroke-width="0.8" stroke-dasharray="1 1" stroke-dashoffset="1"/>
<line x1="396" x2="672.3" y1="62.64" y2="62.64" stroke="#e4e4e4" stroke-width="0.8" stroke-dasharray="1 1" stroke-dashoffset="1"/>
<line x1="599.93" x2="599.93" y1="9" y2="215.6" stroke="#e4e4e4" stroke-width="0.8" stroke-dasharray="1 1" stroke-dashoffset="1"/>
<line x1="396" x2="672.3" y1="44.69" y2="44.69" stroke="#e4e4e4" stroke-width="0.8" stroke-dasharray="1 1" stroke-dashoffset="1"/>
<line x1="623.93" x2="623.93" y1="9" y2="215.6" stroke="#e4e4e4" stroke-width="0.8" stroke-dasharray="1 1" stroke-dashoffset="1"/>
<line x1="396" x2="672.3" y1="35.57" y2="35.57" stroke="#e4e4e4" stroke-width="0.8" stroke-dasharray="1 1" stroke-dashoffset="1"/>
<line x1="636.12" x2="636.12" y1="9" y2="215.6" stroke="#e4e4e4" stroke-width="0.8" stroke-dasharray="1 1" stroke-dashoffset="1"/>
<line x1="396" x2="672.3" y1="29.1" y2="29.1" stroke="#e4e4e4" stroke-width="0.8" stroke-dasharray="1 1" stroke-dashoffset="1"/>
<line x1="644.76" x2="644.76" y1="9" y2="215.6" stroke="#e4e4e4" stroke-width="0.8" stroke-dasharray="1 1" stroke-dashoffset="1"/>
<line x1="396" x2="672.3" y1="24.09" y2="24.09" stroke="#e4e4e4" stroke-width="0.8" stroke-dasharray="1 1" stroke-dashoffset="1"/>
<line x1="651.47" x2="651.47" y1="9" y2="215.6" stroke="#e4e4e4" stroke-width="0.8" stroke-dasharray="1 1" stroke-dashoffset="1"/>
<line x1="396" x2="672.3" y1="19.99" y2="19.99" stroke="#e4e4e4" stroke-width="0.8" stroke-dasharray="1 1" stroke-dashoffset="1"/>
<line x1="656.95" x2="656.95" y1="9" y2="215.6" stroke="#e4e4e4" stroke-width="0.8" stroke-dasharray="1 1" stroke-dashoffset="1"/>
<line x1="396" x2="672.3" y1="16.52" y2="16.52" stroke="#e4e4e4" stroke-width="0.8" stroke-dasharray="1 1" stroke-dashoffset="1"/>
<line x1="661.58" x2="661.58" y1="9" y2="215.6" stroke="#e4e4e4" stroke-width="0.8" stroke-dasharray="1 1" stroke-dashoffset="1"/>
<line x1="396" x2="672.3" y1="13.52" y2="13.52" stroke="#e4e4e4" stroke-width="0.8" stroke-dasharray="1 1" stroke-dashoffset="1"/>
<line x1="665.59" x2="665.59" y1="9" y2="215.6" stroke="#e4e4e4" stroke-width="0.8" stroke-dasharray="1 1" stroke-dashoffset="1"/>
<line x1="396" x2="672.3" y1="10.87" y2="10.87" stroke="#e4e4e4" stroke-width="0.8" stroke-dasharray="1 1" stroke-dashoffset="1"/>
<line x1="669.13" x2="669.13" y1="9" y2="215.6" stroke="#e4e4e4" stroke-width="0.8" stroke-dasharray="1 1" stroke-dashoffset="1"/>
<line x1="395.5" x2="672.3" y1="163.82" y2="163.82" stroke="#ececec" stroke-width="1"/>
<line x1="464.7" x2="464.7" y1="8.5" y2="215.6" stroke="#ececec" stroke-width="1"/>
<line x1="395.5" x2="672.3" y1="112.05" y2="112.05" stroke="#ececec" stroke-width="1"/>
<line x1="533.9" x2="533.9" y1="8.5" y2="215.6" stroke="#ececec" stroke-width="1"/>
<line x1="395.5" x2="672.3" y1="60.28" y2="60.28" stroke="#ececec" stroke-width="1"/>
<line x1="603.1" x2="603.1" y1="8.5" y2="215.6" stroke="#ececec" stroke-width="1"/>
<rect x="395.5" y="8.5" width="277" height="207" fill="none" stroke="#565656" stroke-width="0.9"/>
<line x1="395.5" x2="398.1" y1="215.6" y2="215.6" stroke="#565656" stroke-width="0.8"/>
<line x1="672.3" x2="669.7" y1="215.6" y2="215.6" stroke="#565656" stroke-width="0.8"/>
<line x1="395.5" x2="395.5" y1="215.6" y2="213" stroke="#565656" stroke-width="0.8"/>
<line x1="395.5" x2="395.5" y1="8.5" y2="11.1" stroke="#565656" stroke-width="0.8"/>
<line x1="395.5" x2="396.9" y1="200.01" y2="200.01" stroke="#565656" stroke-width="0.6"/>
<line x1="672.3" x2="670.9" y1="200.01" y2="200.01" stroke="#565656" stroke-width="0.6"/>
<line x1="416.33" x2="416.33" y1="215.6" y2="214.2" stroke="#565656" stroke-width="0.6"/>
<line x1="416.33" x2="416.33" y1="8.5" y2="9.9" stroke="#565656" stroke-width="0.6"/>
<line x1="395.5" x2="396.9" y1="190.9" y2="190.9" stroke="#565656" stroke-width="0.6"/>
<line x1="672.3" x2="670.9" y1="190.9" y2="190.9" stroke="#565656" stroke-width="0.6"/>
<line x1="428.52" x2="428.52" y1="215.6" y2="214.2" stroke="#565656" stroke-width="0.6"/>
<line x1="428.52" x2="428.52" y1="8.5" y2="9.9" stroke="#565656" stroke-width="0.6"/>
<line x1="395.5" x2="396.9" y1="184.43" y2="184.43" stroke="#565656" stroke-width="0.6"/>
<line x1="672.3" x2="670.9" y1="184.43" y2="184.43" stroke="#565656" stroke-width="0.6"/>
<line x1="437.16" x2="437.16" y1="215.6" y2="214.2" stroke="#565656" stroke-width="0.6"/>
<line x1="437.16" x2="437.16" y1="8.5" y2="9.9" stroke="#565656" stroke-width="0.6"/>
<line x1="395.5" x2="396.9" y1="179.41" y2="179.41" stroke="#565656" stroke-width="0.6"/>
<line x1="672.3" x2="670.9" y1="179.41" y2="179.41" stroke="#565656" stroke-width="0.6"/>
<line x1="443.87" x2="443.87" y1="215.6" y2="214.2" stroke="#565656" stroke-width="0.6"/>
<line x1="443.87" x2="443.87" y1="8.5" y2="9.9" stroke="#565656" stroke-width="0.6"/>
<line x1="395.5" x2="396.9" y1="175.31" y2="175.31" stroke="#565656" stroke-width="0.6"/>
<line x1="672.3" x2="670.9" y1="175.31" y2="175.31" stroke="#565656" stroke-width="0.6"/>
<line x1="449.35" x2="449.35" y1="215.6" y2="214.2" stroke="#565656" stroke-width="0.6"/>
<line x1="449.35" x2="449.35" y1="8.5" y2="9.9" stroke="#565656" stroke-width="0.6"/>
<line x1="395.5" x2="396.9" y1="171.85" y2="171.85" stroke="#565656" stroke-width="0.6"/>
<line x1="672.3" x2="670.9" y1="171.85" y2="171.85" stroke="#565656" stroke-width="0.6"/>
<line x1="453.98" x2="453.98" y1="215.6" y2="214.2" stroke="#565656" stroke-width="0.6"/>
<line x1="453.98" x2="453.98" y1="8.5" y2="9.9" stroke="#565656" stroke-width="0.6"/>
<line x1="395.5" x2="396.9" y1="168.84" y2="168.84" stroke="#565656" stroke-width="0.6"/>
<line x1="672.3" x2="670.9" y1="168.84" y2="168.84" stroke="#565656" stroke-width="0.6"/>
<line x1="457.99" x2="457.99" y1="215.6" y2="214.2" stroke="#565656" stroke-width="0.6"/>
<line x1="457.99" x2="457.99" y1="8.5" y2="9.9" stroke="#565656" stroke-width="0.6"/>
<line x1="395.5" x2="396.9" y1="166.19" y2="166.19" stroke="#565656" stroke-width="0.6"/>
<line x1="672.3" x2="670.9" y1="166.19" y2="166.19" stroke="#565656" stroke-width="0.6"/>
<line x1="461.53" x2="461.53" y1="215.6" y2="214.2" stroke="#565656" stroke-width="0.6"/>
<line x1="461.53" x2="461.53" y1="8.5" y2="9.9" stroke="#565656" stroke-width="0.6"/>
<line x1="395.5" x2="398.1" y1="163.82" y2="163.82" stroke="#565656" stroke-width="0.8"/>
<line x1="672.3" x2="669.7" y1="163.82" y2="163.82" stroke="#565656" stroke-width="0.8"/>
<line x1="464.7" x2="464.7" y1="215.6" y2="213" stroke="#565656" stroke-width="0.8"/>
<line x1="464.7" x2="464.7" y1="8.5" y2="11.1" stroke="#565656" stroke-width="0.8"/>
<line x1="395.5" x2="396.9" y1="148.24" y2="148.24" stroke="#565656" stroke-width="0.6"/>
<line x1="672.3" x2="670.9" y1="148.24" y2="148.24" stroke="#565656" stroke-width="0.6"/>
<line x1="485.53" x2="485.53" y1="215.6" y2="214.2" stroke="#565656" stroke-width="0.6"/>
<line x1="485.53" x2="485.53" y1="8.5" y2="9.9" stroke="#565656" stroke-width="0.6"/>
<line x1="395.5" x2="396.9" y1="139.12" y2="139.12" stroke="#565656" stroke-width="0.6"/>
<line x1="672.3" x2="670.9" y1="139.12" y2="139.12" stroke="#565656" stroke-width="0.6"/>
<line x1="497.72" x2="497.72" y1="215.6" y2="214.2" stroke="#565656" stroke-width="0.6"/>
<line x1="497.72" x2="497.72" y1="8.5" y2="9.9" stroke="#565656" stroke-width="0.6"/>
<line x1="395.5" x2="396.9" y1="132.65" y2="132.65" stroke="#565656" stroke-width="0.6"/>
<line x1="672.3" x2="670.9" y1="132.65" y2="132.65" stroke="#565656" stroke-width="0.6"/>
<line x1="506.36" x2="506.36" y1="215.6" y2="214.2" stroke="#565656" stroke-width="0.6"/>
<line x1="506.36" x2="506.36" y1="8.5" y2="9.9" stroke="#565656" stroke-width="0.6"/>
<line x1="395.5" x2="396.9" y1="127.64" y2="127.64" stroke="#565656" stroke-width="0.6"/>
<line x1="672.3" x2="670.9" y1="127.64" y2="127.64" stroke="#565656" stroke-width="0.6"/>
<line x1="513.07" x2="513.07" y1="215.6" y2="214.2" stroke="#565656" stroke-width="0.6"/>
<line x1="513.07" x2="513.07" y1="8.5" y2="9.9" stroke="#565656" stroke-width="0.6"/>
<line x1="395.5" x2="396.9" y1="123.54" y2="123.54" stroke="#565656" stroke-width="0.6"/>
<line x1="672.3" x2="670.9" y1="123.54" y2="123.54" stroke="#565656" stroke-width="0.6"/>
<line x1="518.55" x2="518.55" y1="215.6" y2="214.2" stroke="#565656" stroke-width="0.6"/>
<line x1="518.55" x2="518.55" y1="8.5" y2="9.9" stroke="#565656" stroke-width="0.6"/>
<line x1="395.5" x2="396.9" y1="120.07" y2="120.07" stroke="#565656" stroke-width="0.6"/>
<line x1="672.3" x2="670.9" y1="120.07" y2="120.07" stroke="#565656" stroke-width="0.6"/>
<line x1="523.18" x2="523.18" y1="215.6" y2="214.2" stroke="#565656" stroke-width="0.6"/>
<line x1="523.18" x2="523.18" y1="8.5" y2="9.9" stroke="#565656" stroke-width="0.6"/>
<line x1="395.5" x2="396.9" y1="117.07" y2="117.07" stroke="#565656" stroke-width="0.6"/>
<line x1="672.3" x2="670.9" y1="117.07" y2="117.07" stroke="#565656" stroke-width="0.6"/>
<line x1="527.19" x2="527.19" y1="215.6" y2="214.2" stroke="#565656" stroke-width="0.6"/>
<line x1="527.19" x2="527.19" y1="8.5" y2="9.9" stroke="#565656" stroke-width="0.6"/>
<line x1="395.5" x2="396.9" y1="114.42" y2="114.42" stroke="#565656" stroke-width="0.6"/>
<line x1="672.3" x2="670.9" y1="114.42" y2="114.42" stroke="#565656" stroke-width="0.6"/>
<line x1="530.73" x2="530.73" y1="215.6" y2="214.2" stroke="#565656" stroke-width="0.6"/>
<line x1="530.73" x2="530.73" y1="8.5" y2="9.9" stroke="#565656" stroke-width="0.6"/>
<line x1="395.5" x2="398.1" y1="112.05" y2="112.05" stroke="#565656" stroke-width="0.8"/>
<line x1="672.3" x2="669.7" y1="112.05" y2="112.05" stroke="#565656" stroke-width="0.8"/>
<line x1="533.9" x2="533.9" y1="215.6" y2="213" stroke="#565656" stroke-width="0.8"/>
<line x1="533.9" x2="533.9" y1="8.5" y2="11.1" stroke="#565656" stroke-width="0.8"/>
<line x1="395.5" x2="396.9" y1="96.46" y2="96.46" stroke="#565656" stroke-width="0.6"/>
<line x1="672.3" x2="670.9" y1="96.46" y2="96.46" stroke="#565656" stroke-width="0.6"/>
<line x1="554.73" x2="554.73" y1="215.6" y2="214.2" stroke="#565656" stroke-width="0.6"/>
<line x1="554.73" x2="554.73" y1="8.5" y2="9.9" stroke="#565656" stroke-width="0.6"/>
<line x1="395.5" x2="396.9" y1="87.35" y2="87.35" stroke="#565656" stroke-width="0.6"/>
<line x1="672.3" x2="670.9" y1="87.35" y2="87.35" stroke="#565656" stroke-width="0.6"/>
<line x1="566.92" x2="566.92" y1="215.6" y2="214.2" stroke="#565656" stroke-width="0.6"/>
<line x1="566.92" x2="566.92" y1="8.5" y2="9.9" stroke="#565656" stroke-width="0.6"/>
<line x1="395.5" x2="396.9" y1="80.88" y2="80.88" stroke="#565656" stroke-width="0.6"/>
<line x1="672.3" x2="670.9" y1="80.88" y2="80.88" stroke="#565656" stroke-width="0.6"/>
<line x1="575.56" x2="575.56" y1="215.6" y2="214.2" stroke="#565656" stroke-width="0.6"/>
<line x1="575.56" x2="575.56" y1="8.5" y2="9.9" stroke="#565656" stroke-width="0.6"/>
<line x1="395.5" x2="396.9" y1="75.86" y2="75.86" stroke="#565656" stroke-width="0.6"/>
<line x1="672.3" x2="670.9" y1="75.86" y2="75.86" stroke="#565656" stroke-width="0.6"/>
<line x1="582.27" x2="582.27" y1="215.6" y2="214.2" stroke="#565656" stroke-width="0.6"/>
<line x1="582.27" x2="582.27" y1="8.5" y2="9.9" stroke="#565656" stroke-width="0.6"/>
<line x1="395.5" x2="396.9" y1="71.76" y2="71.76" stroke="#565656" stroke-width="0.6"/>
<line x1="672.3" x2="670.9" y1="71.76" y2="71.76" stroke="#565656" stroke-width="0.6"/>
<line x1="587.75" x2="587.75" y1="215.6" y2="214.2" stroke="#565656" stroke-width="0.6"/>
<line x1="587.75" x2="587.75" y1="8.5" y2="9.9" stroke="#565656" stroke-width="0.6"/>
<line x1="395.5" x2="396.9" y1="68.3" y2="68.3" stroke="#565656" stroke-width="0.6"/>
<line x1="672.3" x2="670.9" y1="68.3" y2="68.3" stroke="#565656" stroke-width="0.6"/>
<line x1="592.38" x2="592.38" y1="215.6" y2="214.2" stroke="#565656" stroke-width="0.6"/>
<line x1="592.38" x2="592.38" y1="8.5" y2="9.9" stroke="#565656" stroke-width="0.6"/>
<line x1="395.5" x2="396.9" y1="65.29" y2="65.29" stroke="#565656" stroke-width="0.6"/>
<line x1="672.3" x2="670.9" y1="65.29" y2="65.29" stroke="#565656" stroke-width="0.6"/>
<line x1="596.39" x2="596.39" y1="215.6" y2="214.2" stroke="#565656" stroke-width="0.6"/>
<line x1="596.39" x2="596.39" y1="8.5" y2="9.9" stroke="#565656" stroke-width="0.6"/>
<line x1="395.5" x2="396.9" y1="62.64" y2="62.64" stroke="#565656" stroke-width="0.6"/>
<line x1="672.3" x2="670.9" y1="62.64" y2="62.64" stroke="#565656" stroke-width="0.6"/>
<line x1="599.93" x2="599.93" y1="215.6" y2="214.2" stroke="#565656" stroke-width="0.6"/>
<line x1="599.93" x2="599.93" y1="8.5" y2="9.9" stroke="#565656" stroke-width="0.6"/>
<line x1="395.5" x2="398.1" y1="60.28" y2="60.28" stroke="#565656" stroke-width="0.8"/>
<line x1="672.3" x2="669.7" y1="60.28" y2="60.28" stroke="#565656" stroke-width="0.8"/>
<line x1="603.1" x2="603.1" y1="215.6" y2="213" stroke="#565656" stroke-width="0.8"/>
<line x1="603.1" x2="603.1" y1="8.5" y2="11.1" stroke="#565656" stroke-width="0.8"/>
<line x1="395.5" x2="396.9" y1="44.69" y2="44.69" stroke="#565656" stroke-width="0.6"/>
<line x1="672.3" x2="670.9" y1="44.69" y2="44.69" stroke="#565656" stroke-width="0.6"/>
<line x1="623.93" x2="623.93" y1="215.6" y2="214.2" stroke="#565656" stroke-width="0.6"/>
<line x1="623.93" x2="623.93" y1="8.5" y2="9.9" stroke="#565656" stroke-width="0.6"/>
<line x1="395.5" x2="396.9" y1="35.57" y2="35.57" stroke="#565656" stroke-width="0.6"/>
<line x1="672.3" x2="670.9" y1="35.57" y2="35.57" stroke="#565656" stroke-width="0.6"/>
<line x1="636.12" x2="636.12" y1="215.6" y2="214.2" stroke="#565656" stroke-width="0.6"/>
<line x1="636.12" x2="636.12" y1="8.5" y2="9.9" stroke="#565656" stroke-width="0.6"/>
<line x1="395.5" x2="396.9" y1="29.1" y2="29.1" stroke="#565656" stroke-width="0.6"/>
<line x1="672.3" x2="670.9" y1="29.1" y2="29.1" stroke="#565656" stroke-width="0.6"/>
<line x1="644.76" x2="644.76" y1="215.6" y2="214.2" stroke="#565656" stroke-width="0.6"/>
<line x1="644.76" x2="644.76" y1="8.5" y2="9.9" stroke="#565656" stroke-width="0.6"/>
<line x1="395.5" x2="396.9" y1="24.09" y2="24.09" stroke="#565656" stroke-width="0.6"/>
<line x1="672.3" x2="670.9" y1="24.09" y2="24.09" stroke="#565656" stroke-width="0.6"/>
<line x1="651.47" x2="651.47" y1="215.6" y2="214.2" stroke="#565656" stroke-width="0.6"/>
<line x1="651.47" x2="651.47" y1="8.5" y2="9.9" stroke="#565656" stroke-width="0.6"/>
<line x1="395.5" x2="396.9" y1="19.99" y2="19.99" stroke="#565656" stroke-width="0.6"/>
<line x1="672.3" x2="670.9" y1="19.99" y2="19.99" stroke="#565656" stroke-width="0.6"/>
<line x1="656.95" x2="656.95" y1="215.6" y2="214.2" stroke="#565656" stroke-width="0.6"/>
<line x1="656.95" x2="656.95" y1="8.5" y2="9.9" stroke="#565656" stroke-width="0.6"/>
<line x1="395.5" x2="396.9" y1="16.52" y2="16.52" stroke="#565656" stroke-width="0.6"/>
<line x1="672.3" x2="670.9" y1="16.52" y2="16.52" stroke="#565656" stroke-width="0.6"/>
<line x1="661.58" x2="661.58" y1="215.6" y2="214.2" stroke="#565656" stroke-width="0.6"/>
<line x1="661.58" x2="661.58" y1="8.5" y2="9.9" stroke="#565656" stroke-width="0.6"/>
<line x1="395.5" x2="396.9" y1="13.52" y2="13.52" stroke="#565656" stroke-width="0.6"/>
<line x1="672.3" x2="670.9" y1="13.52" y2="13.52" stroke="#565656" stroke-width="0.6"/>
<line x1="665.59" x2="665.59" y1="215.6" y2="214.2" stroke="#565656" stroke-width="0.6"/>
<line x1="665.59" x2="665.59" y1="8.5" y2="9.9" stroke="#565656" stroke-width="0.6"/>
<line x1="395.5" x2="396.9" y1="10.87" y2="10.87" stroke="#565656" stroke-width="0.6"/>
<line x1="672.3" x2="670.9" y1="10.87" y2="10.87" stroke="#565656" stroke-width="0.6"/>
<line x1="669.13" x2="669.13" y1="215.6" y2="214.2" stroke="#565656" stroke-width="0.6"/>
<line x1="669.13" x2="669.13" y1="8.5" y2="9.9" stroke="#565656" stroke-width="0.6"/>
<line x1="395.5" x2="398.1" y1="8.5" y2="8.5" stroke="#565656" stroke-width="0.8"/>
<line x1="672.3" x2="669.7" y1="8.5" y2="8.5" stroke="#565656" stroke-width="0.8"/>
<line x1="672.3" x2="672.3" y1="215.6" y2="213" stroke="#565656" stroke-width="0.8"/>
<line x1="672.3" x2="672.3" y1="8.5" y2="11.1" stroke="#565656" stroke-width="0.8"/>
<text transform="matrix(0.935 0.0005 0 1 391.2 221.5)" font-size="12.3" fill="#262626" stroke="#262626" stroke-width="0.17" text-anchor="end">10<tspan font-size="10.2" dy="-5.8">-4</tspan></text>
<text transform="matrix(0.935 0.0005 0 1 391.2 169.72)" font-size="12.3" fill="#262626" stroke="#262626" stroke-width="0.17" text-anchor="end">10<tspan font-size="10.2" dy="-5.8">-3</tspan></text>
<text transform="matrix(0.935 0.0005 0 1 391.2 117.95)" font-size="12.3" fill="#262626" stroke="#262626" stroke-width="0.17" text-anchor="end">10<tspan font-size="10.2" dy="-5.8">-2</tspan></text>
<text transform="matrix(0.935 0.0005 0 1 391.2 66.18)" font-size="12.3" fill="#262626" stroke="#262626" stroke-width="0.17" text-anchor="end">10<tspan font-size="10.2" dy="-5.8">-1</tspan></text>
<text transform="matrix(0.935 0.0005 0 1 391.2 14.4)" font-size="12.3" fill="#262626" stroke="#262626" stroke-width="0.17" text-anchor="end">10<tspan font-size="10.2" dy="-5.8">0</tspan></text>
<text transform="matrix(0.935 0.0005 0 1 395.5 235.5)" font-size="12.3" fill="#262626" stroke="#262626" stroke-width="0.17" text-anchor="middle">10<tspan font-size="10.2" dy="-5.8">10</tspan></text>
<text transform="matrix(0.935 0.0005 0 1 464.7 235.5)" font-size="12.3" fill="#262626" stroke="#262626" stroke-width="0.17" text-anchor="middle">10<tspan font-size="10.2" dy="-5.8">11</tspan></text>
<text transform="matrix(0.935 0.0005 0 1 533.9 235.5)" font-size="12.3" fill="#262626" stroke="#262626" stroke-width="0.17" text-anchor="middle">10<tspan font-size="10.2" dy="-5.8">12</tspan></text>
<text transform="matrix(0.935 0.0005 0 1 603.1 235.5)" font-size="12.3" fill="#262626" stroke="#262626" stroke-width="0.17" text-anchor="middle">10<tspan font-size="10.2" dy="-5.8">13</tspan></text>
<text transform="matrix(0.935 0.0005 0 1 672.3 235.5)" font-size="12.3" fill="#262626" stroke="#262626" stroke-width="0.17" text-anchor="middle">10<tspan font-size="10.2" dy="-5.8">14</tspan></text>
<text transform="matrix(1.0 0.0005 0 1 533.9 252)" font-size="13.1" font-weight="bold" fill="#262626" stroke="#262626" stroke-width="0.17" text-anchor="middle">Sample concentration (NP/mL)</text>
<text transform="matrix(0.0005 -1.0 1 0 363.4 112.3)" font-size="13.05" font-weight="bold" fill="#262626" stroke="#262626" stroke-width="0.17" text-anchor="middle">NP hits (/shot)</text>
<text transform="matrix(1.0 0.0005 0 1 346.9 16)" font-size="19" fill="#0a0a0a" stroke="#0a0a0a" stroke-width="0.35">(b)</text>
<polyline fill="none" stroke="#0072bd" stroke-width="2.0" stroke-linejoin="round" points="438.2,181.9 507.2,116.3 540.5,78.6 588.8,57.8 625.1,24.7 646.2,20.9"/>
<path d="M438.2 170.4V203.9M435.6 170.4H440.8M435.6 203.9H440.8" stroke="#0072bd" stroke-width="1.5" fill="none"/>
<circle cx="438.2" cy="181.9" r="2.6" fill="#0072bd" fill-opacity="0.0" stroke="#0072bd" stroke-width="1.5"/>
<circle cx="438.2" cy="181.9" r="1.25" fill="#a9cbe8"/>
<path d="M507.2 115.3V117.3M504.6 115.3H509.8M504.6 117.3H509.8" stroke="#0072bd" stroke-width="1.5" fill="none"/>
<circle cx="507.2" cy="116.3" r="2.6" fill="#0072bd" fill-opacity="0.2" stroke="#0072bd" stroke-width="1.5"/>
<circle cx="507.2" cy="116.3" r="1.25" fill="#a9cbe8"/>
<path d="M540.5 77.6V79.6M537.9 77.6H543.1M537.9 79.6H543.1" stroke="#0072bd" stroke-width="1.5" fill="none"/>
<circle cx="540.5" cy="78.6" r="2.6" fill="#0072bd" fill-opacity="0.2" stroke="#0072bd" stroke-width="1.5"/>
<circle cx="540.5" cy="78.6" r="1.25" fill="#a9cbe8"/>
<path d="M588.8 55.6V60M586.2 55.6H591.4M586.2 60H591.4" stroke="#0072bd" stroke-width="1.5" fill="none"/>
<circle cx="588.8" cy="57.8" r="2.6" fill="#0072bd" fill-opacity="0.5" stroke="#0072bd" stroke-width="1.5"/>
<circle cx="588.8" cy="57.8" r="0.9" fill="#8fbbe0"/>
<path d="M625.1 22V28M622.5 22H627.7M622.5 28H627.7" stroke="#0072bd" stroke-width="1.5" fill="none"/>
<circle cx="625.1" cy="24.7" r="2.6" fill="#0072bd" fill-opacity="0.5" stroke="#0072bd" stroke-width="1.5"/>
<path d="M646.2 20V21.8M643.6 20H648.8M643.6 21.8H648.8" stroke="#0072bd" stroke-width="1.5" fill="none"/>
<circle cx="646.2" cy="20.9" r="2.6" fill="#0072bd" fill-opacity="0.9" stroke="#0072bd" stroke-width="1.5"/>
</g>
</svg>
</body></html>
